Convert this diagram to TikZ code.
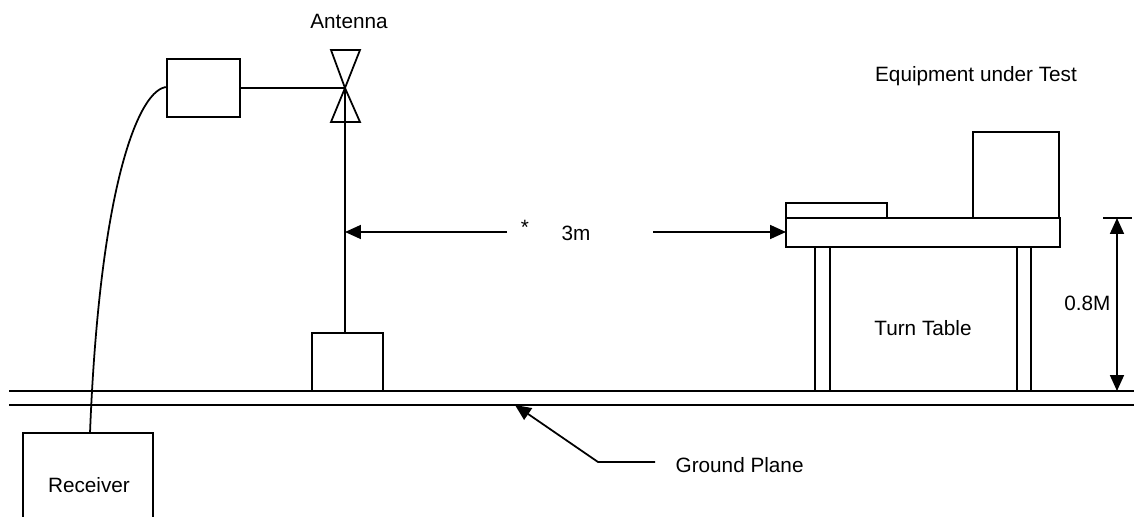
\documentclass[tikz,border=0pt]{standalone}
\usepackage{fontspec}
\setmainfont{Liberation Sans}
\usetikzlibrary{arrows.meta}
\begin{document}
\begin{tikzpicture}[x=0.02cm,y=-0.02cm,line width=1pt,
	lbl/.style={font=\fontsize{11.8}{14}\selectfont,inner sep=1pt},
	tip/.style={-{Triangle[length=0.32cm,width=0.28cm]}},
	dim/.style={{Triangle[length=0.32cm,width=0.28cm]}-{Triangle[length=0.32cm,width=0.28cm]}}]
	\useasboundingbox (0,0) rectangle (1134,517);
	% ground plane
	\draw (9,391) -- (1134,391);
	\draw (9,405) -- (1134,405);
	% receiver and cable
	\draw (23,517) -- (23,433) -- (153,433) -- (153,517);
	\node[lbl] (rx) at (89,485) {Receiver};
	\coordinate (rxtop) at (90,433);
	\draw (167,59) rectangle (240,117);
	\coordinate (ampl) at (167,87);
	\coordinate (ampr) at (240,88);
	\draw (rxtop) .. controls (100,180) and (140,88) .. (ampl);
	% antenna on its mast
	\coordinate (feed) at (345,88);
	\coordinate (mast) at (345,333);
	\draw (331,50) -- (360,50) -- (feed) -- cycle;
	\draw (331,122) -- (360,122) -- (feed) -- cycle;
	\draw (ampr) -- (feed);
	\draw (feed) -- (mast);
	\draw (312,333) rectangle (383,391);
	\node[lbl] (ant) at (349,21) {Antenna};
	% distance
	\coordinate (dl) at (345,232);
	\coordinate (dr) at (786,232);
	\draw[tip] (507,232) -- (dl);
	\draw[tip] (653,232) -- (dr);
	\node[lbl] (star) at (525,227) {*};
	\node[lbl] (dist) at (576,233) {3m};
	% turn table and equipment
	\draw (786,218) rectangle (1060,247);
	\draw (786,203) rectangle (887,218);
	\draw (973,132) rectangle (1059,218);
	\draw (815,247) rectangle (830,391);
	\draw (1017,247) rectangle (1031,391);
	\node[lbl] (eut) at (976,76) {Equipment under Test};
	\node[lbl] (tt) at (923,328) {Turn Table};
	% height
	\coordinate (htop) at (1117,218);
	\coordinate (hbot) at (1117,391);
	\draw (1103,218) -- (1132,218);
	\draw[dim] (htop) -- (hbot);
	\node[lbl,anchor=east] (h) at (1113,303) {0.8M};
	% ground plane label
	\node[lbl,anchor=west] (gp) at (673,465) {Ground Plane};
	\coordinate (gpt) at (515,405);
	\draw[tip] (gp.west) ++(-18,-3) -- (598,462) -- (gpt);
\end{tikzpicture}
\end{document}
